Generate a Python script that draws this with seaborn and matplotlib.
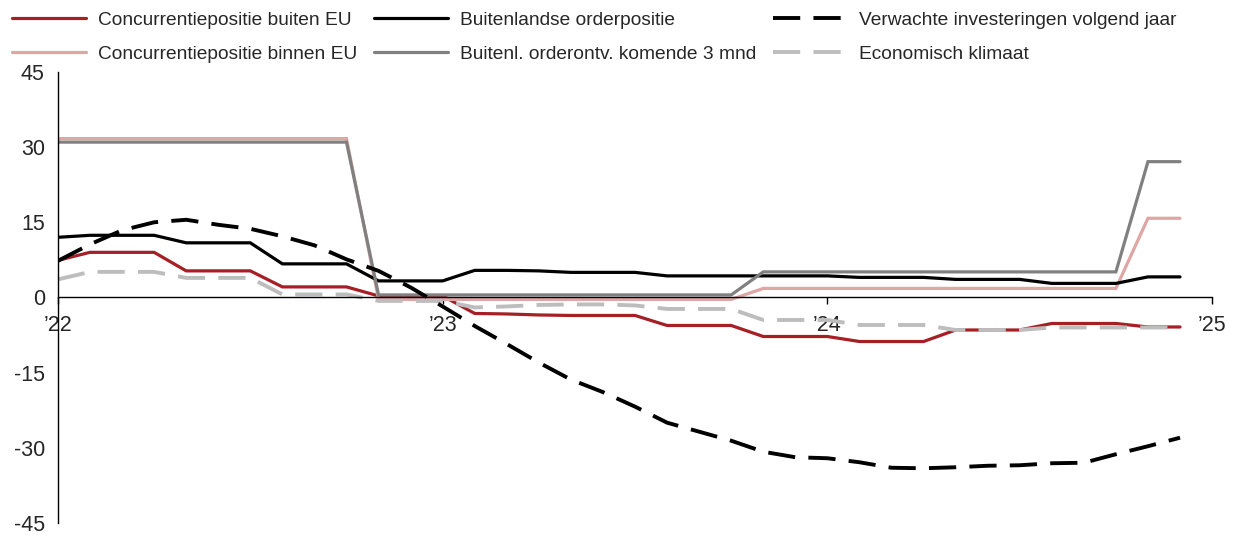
import matplotlib
matplotlib.use("Agg")
import matplotlib.pyplot as plt
import seaborn as sns
import pandas as pd
from matplotlib.ticker import FixedLocator, FixedFormatter

# ---------------- data (monthly, Jan 2022 .. Dec 2024) ----------------
months = list(range(36))

buiten_eu = [7.4, 9.0, 9.0, 9.0, 5.3, 5.3, 5.3, 2.1, 2.1, 2.1, 0.3, 0.3,
             0.3, -3.2, -3.3, -3.5, -3.6, -3.6, -3.6, -5.6, -5.6, -5.6, -7.8, -7.8,
             -7.8, -8.8, -8.8, -8.8, -6.5, -6.5, -6.5, -5.2, -5.2, -5.2, -5.9, -5.9]

binnen_eu = [31.7, 31.7, 31.7, 31.7, 31.7, 31.7, 31.7, 31.7, 31.7, 31.7, -0.4, -0.4,
             -0.4, -0.4, -0.4, -0.4, -0.4, -0.4, -0.4, -0.4, -0.4, -0.4, 1.8, 1.8,
             1.8, 1.8, 1.8, 1.8, 1.8, 1.8, 1.8, 1.8, 1.8, 1.8, 15.8, 15.8]

orderpositie = [12.0, 12.4, 12.4, 12.4, 10.9, 10.9, 10.9, 6.7, 6.7, 6.7, 3.3, 3.3,
                3.3, 5.4, 5.4, 5.3, 5.0, 5.0, 5.0, 4.3, 4.3, 4.3, 4.3, 4.3,
                4.3, 4.0, 4.0, 4.0, 3.6, 3.6, 3.6, 2.8, 2.8, 2.8, 4.1, 4.1]

orderontvangst = [31.0, 31.0, 31.0, 31.0, 31.0, 31.0, 31.0, 31.0, 31.0, 31.0, 0.5, 0.5,
                  0.5, 0.5, 0.5, 0.5, 0.5, 0.5, 0.5, 0.5, 0.5, 0.5, 5.1, 5.1,
                  5.1, 5.1, 5.1, 5.1, 5.1, 5.1, 5.1, 5.1, 5.1, 5.1, 27.1, 27.1]

investeringen = [7.3, 10.6, 13.4, 15.0, 15.5, 14.5, 13.7, 12.2, 10.4, 7.6, 5.3, 2.0,
                 -1.8, -5.7, -9.3, -13.0, -16.4, -18.9, -21.8, -25.0, -26.8, -28.6, -30.8, -31.9,
                 -32.1, -32.9, -34.0, -34.1, -33.9, -33.6, -33.5, -33.1, -33.0, -31.3, -29.7, -28.0]

klimaat = [3.6, 5.1, 5.1, 5.1, 3.9, 3.9, 3.9, 0.6, 0.6, 0.6, -0.7, -0.7,
           -0.7, -2.0, -1.8, -1.5, -1.4, -1.4, -1.6, -2.3, -2.3, -2.3, -4.5, -4.5,
           -4.5, -5.5, -5.5, -5.5, -6.5, -6.5, -6.5, -6.0, -6.0, -6.0, -6.0, -6.0]

labels = ["Concurrentiepositie buiten EU", "Concurrentiepositie binnen EU",
          "Buitenlandse orderpositie", "Buitenl. orderontv. komende 3 mnd",
          "Verwachte investeringen volgend jaar", "Economisch klimaat"]

x_tick_pos = [0, 12, 24, 36]
x_tick_labels = ["\u201922", "\u201923", "\u201924", "\u201925"]
y_tick_pos = [45, 30, 15, 0, -15, -30, -45]
y_tick_labels = ["45", "30", "15", "0", "-15", "-30", "-45"]

# ---------------- style ----------------
sns.set_theme(style="white")
plt.rcParams["font.family"] = ["Liberation Sans", "DejaVu Sans"]

fig = plt.figure(figsize=(12.41, 5.36), dpi=100)
ax = fig.add_axes([0.0467, 0.0245, 0.93, 0.8412])

series = [
    (buiten_eu, labels[0], "#A51F24", 2.3, None),
    (binnen_eu, labels[1], "#DFA6A6", 2.3, None),
    (orderpositie, labels[2], "#000000", 2.3, None),
    (orderontvangst, labels[3], "#808080", 2.3, None),
    (klimaat, labels[5], "#BDBDBD", 2.8, (0, (7.0, 3.4))),
    (investeringen, labels[4], "#000000", 2.8, (0, (7.0, 3.4))),
]

handles = {}
for vals, lab, col, lw, ls in series:
    df = pd.DataFrame({"month": months, "value": vals})
    sns.lineplot(data=df, x="month", y="value", color=col, linewidth=lw,
                 ax=ax, label=lab, legend=False)
    line = ax.lines[-1]
    if ls is not None:
        line.set_linestyle(ls)
    line.set_solid_joinstyle("miter")
    handles[lab] = line

ax.set_xlim(0, 36)
ax.set_ylim(-45, 45)
ax.set_xlabel("")
ax.set_ylabel("")

for s in ["top", "right"]:
    ax.spines[s].set_visible(False)
ax.spines["bottom"].set_position(("data", 0))
ax.spines["bottom"].set_color("black")
ax.spines["left"].set_color("black")
ax.spines["bottom"].set_linewidth(1.0)
ax.spines["left"].set_linewidth(1.0)

ax.xaxis.set_major_locator(FixedLocator(x_tick_pos))
ax.xaxis.set_major_formatter(FixedFormatter(x_tick_labels))
ax.yaxis.set_major_locator(FixedLocator(y_tick_pos))
ax.yaxis.set_major_formatter(FixedFormatter(y_tick_labels))
ax.tick_params(axis="x", direction="out", length=5, width=1, color="black",
               labelsize=15.5, pad=8, bottom=True)
ax.tick_params(axis="y", length=0, labelsize=15.5, pad=9.5, left=False)
ax.grid(False)

order = [labels[0], labels[1], labels[2], labels[3], labels[4], labels[5]]
fig.legend([handles[l] for l in order], order, ncol=3, loc="upper left",
           bbox_to_anchor=(0.0, 1.0), frameon=False, fontsize=13.8,
           handlelength=3.9, handletextpad=0.62, columnspacing=0.85,
           labelspacing=0.85, borderaxespad=0.2)

fig.savefig("out.png", dpi=100)
